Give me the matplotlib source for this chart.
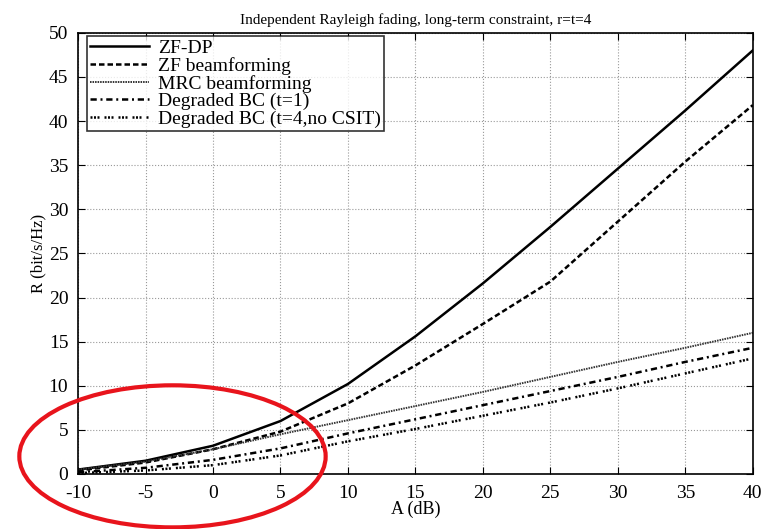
import matplotlib
matplotlib.use("Agg")
import matplotlib.pyplot as plt
from matplotlib.patches import Ellipse

# SNR axis (dB) and rate curves (bit/s/Hz)
snr_db = [-10, -5, 0, 5, 10, 15, 20, 25, 30, 35, 40]
zf_dp = [0.5, 1.5, 3.2, 6.0, 10.2, 15.6, 21.6, 28.0, 34.6, 41.2, 48.0]
zf_bf = [0.4, 1.3, 2.8, 4.8, 8.0, 12.3, 17.0, 21.8, 28.6, 35.4, 41.8]
mrc_bf = [0.5, 1.4, 2.8, 4.5, 6.1, 7.7, 9.3, 11.0, 12.7, 14.3, 16.0]
deg_bc_t1 = [0.2, 0.7, 1.6, 2.9, 4.6, 6.2, 7.8, 9.4, 11.0, 12.7, 14.3]
deg_bc_nocsit = [0.1, 0.4, 1.0, 2.1, 3.7, 5.1, 6.6, 8.1, 9.7, 11.4, 13.1]

labels = ["ZF-DP", "ZF beamforming", "MRC beamforming",
          "Degraded BC (t=1)", "Degraded BC (t=4,no CSIT)"]

plt.rcParams["font.family"] = ["Liberation Serif", "DejaVu Serif"]
plt.rcParams["axes.unicode_minus"] = False

fig = plt.figure(figsize=(7.65, 5.29), dpi=100)
ax = fig.add_axes([0.102, 0.104, 0.882, 0.834])

ax.plot(snr_db, zf_dp, color="black", lw=1.8, label=labels[0])
ax.plot(snr_db, zf_bf, color="black", lw=1.8, dashes=(2.2, 1.2), label=labels[1])
ax.plot(snr_db, mrc_bf, color="#333333", lw=1.4, dashes=(0.8, 0.5), label=labels[2])
ax.plot(snr_db, deg_bc_t1, color="black", lw=1.8, dashes=(2.5, 1.5, 0.8, 1.5), label=labels[3])
ax.plot(snr_db, deg_bc_nocsit, color="black", lw=1.8,
        dashes=(0.8, 0.6, 0.8, 0.6, 0.8, 2.0), label=labels[4])

ax.set_xlim(-10, 40)
ax.set_ylim(0, 50)
ax.set_xticks(range(-10, 41, 5))
ax.set_yticks(range(0, 51, 5))
ax.tick_params(direction="in", length=5, labelsize=14, top=True, right=True)
ax.tick_params(axis="x", pad=8)
ax.tick_params(axis="y", pad=7)
ax.grid(True, linestyle=":", color="#999999", lw=0.8)
for s in ax.spines.values():
    s.set_linewidth(1.2)

ax.set_title("Independent Rayleigh fading, long-term constraint, r=t=4", fontsize=11)
ax.set_xlabel("A (dB)", fontsize=13, labelpad=-1)
ax.set_ylabel("R (bit/s/Hz)", fontsize=12, labelpad=2)

leg = ax.legend(loc="upper left", fontsize=14, frameon=True, fancybox=False,
                edgecolor="black", borderaxespad=0.0, handlelength=3.0,
                labelspacing=0.0, borderpad=0.15, handletextpad=0.5,
                bbox_to_anchor=(0.014, 0.992))
leg.get_frame().set_linewidth(1.2)

# red ring drawn around the low-SNR region
ring = Ellipse((-3.0, 2.0), 22.7, 16.1, fill=False, edgecolor="#e8141c",
               lw=3, clip_on=False, zorder=10)
ax.add_patch(ring)

fig.savefig("out.png", dpi=100)
